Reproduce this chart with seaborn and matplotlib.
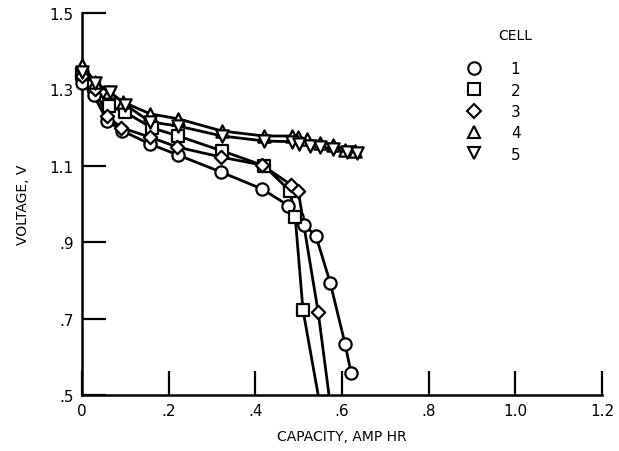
import numpy as np
import pandas as pd
import matplotlib
matplotlib.use("Agg")
import matplotlib.pyplot as plt
from matplotlib.lines import Line2D
import seaborn as sns

# Discharge data (capacity in amp hr, voltage in V)
cell1_x = [0.0, 0.027, 0.058, 0.092, 0.157, 0.222, 0.32, 0.416, 0.476, 0.497, 0.512, 0.54, 0.573, 0.607, 0.621]
cell1_y = [1.318, 1.285, 1.218, 1.192, 1.157, 1.128, 1.084, 1.039, 0.996, 0.966, 0.946, 0.916, 0.793, 0.634, 0.558]

cell2_x = [0.0, 0.028, 0.062, 0.1, 0.162, 0.222, 0.323, 0.42, 0.48, 0.492, 0.51]
cell2_y = [1.34, 1.31, 1.257, 1.24, 1.199, 1.178, 1.139, 1.1, 1.034, 0.966, 0.722]
cell2_tail = (0.545, 0.5)

cell3_x = [0.0, 0.03, 0.058, 0.09, 0.157, 0.22, 0.32, 0.415, 0.483, 0.499, 0.545]
cell3_y = [1.335, 1.3, 1.23, 1.2, 1.175, 1.149, 1.123, 1.102, 1.05, 1.034, 0.717]
cell3_tail = (0.57, 0.5)

cell4_x = [0.0, 0.03, 0.062, 0.095, 0.157, 0.222, 0.323, 0.42, 0.485, 0.499, 0.52, 0.55, 0.58, 0.607, 0.63]
cell4_y = [1.365, 1.32, 1.293, 1.267, 1.236, 1.223, 1.191, 1.178, 1.178, 1.175, 1.17, 1.16, 1.155, 1.142, 1.138]

cell5_x = [0.0, 0.03, 0.065, 0.1, 0.157, 0.222, 0.323, 0.42, 0.485, 0.5, 0.527, 0.55, 0.58, 0.612, 0.635]
cell5_y = [1.345, 1.318, 1.293, 1.26, 1.215, 1.204, 1.178, 1.165, 1.163, 1.158, 1.152, 1.15, 1.144, 1.136, 1.134]

cells = ["1", "2", "3", "4", "5"]
marker_map = {"1": "o", "2": "s", "3": "D", "4": "^", "5": "v"}
marker_size = {"1": 78, "2": 66, "3": 46, "4": 78, "5": 78}

x_ticks = [0, 0.2, 0.4, 0.6, 0.8, 1.0, 1.2]
x_labels = ["0", ".2", ".4", ".6", ".8", "1.0", "1.2"]
y_ticks = [0.5, 0.7, 0.9, 1.1, 1.3, 1.5]
y_labels = [".5", ".7", ".9", "1.1", "1.3", "1.5"]

# marker points
pts = pd.concat([
    pd.DataFrame({"cap": cell1_x, "volt": cell1_y, "cell": "1"}),
    pd.DataFrame({"cap": cell2_x, "volt": cell2_y, "cell": "2"}),
    pd.DataFrame({"cap": cell3_x, "volt": cell3_y, "cell": "3"}),
    pd.DataFrame({"cap": cell4_x, "volt": cell4_y, "cell": "4"}),
    pd.DataFrame({"cap": cell5_x, "volt": cell5_y, "cell": "5"}),
], ignore_index=True)

# lines (cells 2 and 3 run on down to the axis)
lines = pd.concat([
    pts,
    pd.DataFrame({"cap": [cell2_tail[0]], "volt": [cell2_tail[1]], "cell": "2"}),
    pd.DataFrame({"cap": [cell3_tail[0]], "volt": [cell3_tail[1]], "cell": "3"}),
], ignore_index=True)

sns.set_style("ticks")
plt.rcParams["font.family"] = ["DejaVu Sans"]
plt.rcParams["text.color"] = "black"
plt.rcParams["axes.labelcolor"] = "black"
plt.rcParams["xtick.color"] = "black"
plt.rcParams["ytick.color"] = "black"
plt.rcParams["axes.edgecolor"] = "black"

fig = plt.figure(figsize=(6.19, 4.52), dpi=100)
ax = fig.add_axes([0.1325, 0.124, 0.84, 0.845])

sns.lineplot(data=lines, x="cap", y="volt", units="cell", estimator=None, sort=False,
             color="black", linewidth=2.0, ax=ax, legend=False)
for c in cells:
    sub = pts[pts["cell"] == c]
    sns.scatterplot(data=sub, x="cap", y="volt", marker=marker_map[c], s=marker_size[c],
                    facecolor="white", edgecolor="black", linewidth=1.6, ax=ax,
                    legend=False, zorder=3, clip_on=False)

ax.set_xlim(0, 1.2)
ax.set_ylim(0.5, 1.5)
ax.set_xticks(x_ticks)
ax.set_xticklabels(x_labels)
ax.set_yticks(y_ticks)
ax.set_yticklabels(y_labels)
ax.tick_params(direction="in", length=17, width=1.6, labelsize=11, pad=6)
for s in ["top", "right"]:
    ax.spines[s].set_visible(False)
for s in ["left", "bottom"]:
    ax.spines[s].set_linewidth(1.8)

ax.set_xlabel("CAPACITY, AMP HR", fontsize=10, labelpad=8)
ax.set_ylabel("VOLTAGE, V", fontsize=10, labelpad=14)

handles = [Line2D([], [], marker=marker_map[c], linestyle="none", markersize=9 if c != "3" else 7,
                  markerfacecolor="white", markeredgecolor="black", markeredgewidth=1.5)
           for c in cells]
ax.legend(handles, cells, frameon=False, loc="upper left", bbox_to_anchor=(0.71, 0.91),
          handletextpad=1.8, labelspacing=0.42, fontsize=11, handlelength=1.2)
ax.text(0.80, 0.925, "CELL", transform=ax.transAxes, fontsize=10, ha="left", va="bottom")

fig.savefig("out.png", dpi=100)
